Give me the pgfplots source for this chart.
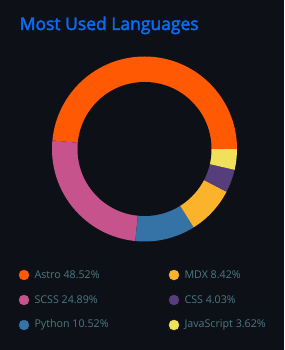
\documentclass[border=0pt]{standalone}
\usepackage{pgfplots}
\usepackage{pgfplotstable}
\pgfplotsset{compat=1.18}
\usepackage{fontspec}
\setmainfont{Open Sans}
\newfontfamily\titlefont[FakeBold=2.4]{Open Sans}
\definecolor{bg}{HTML}{0D1117}
\definecolor{titlec}{HTML}{0A6CF5}
\definecolor{textc}{HTML}{4A7A85}
\definecolor{cAstro}{HTML}{FF5A03}
\definecolor{cSCSS}{HTML}{C6538C}
\definecolor{cPython}{HTML}{3572A5}
\definecolor{cMDX}{HTML}{FCB32C}
\definecolor{cCSS}{HTML}{563D7C}
\definecolor{cJS}{HTML}{F1E05A}

\pgfplotstableread{
name value color lx ly
Astro 48.52 cAstro 24 275
SCSS 24.89 cSCSS 24 300
Python 10.52 cPython 24 325
MDX 8.42 cMDX 174 275
CSS 4.03 cCSS 174 300
JavaScript 3.62 cJS 174 325
}\langtable

\begin{document}
\begin{tikzpicture}
\begin{axis}[
  width=284pt, height=350pt, scale only axis,
  xmin=0, xmax=284, ymin=0, ymax=350, y dir=reverse,
  hide axis, clip=false,
]
\fill[bg] (axis cs:0,0) rectangle (axis cs:284,350);
\node[anchor=base west, inner sep=0pt, text=titlec, font=\titlefont\fontsize{17.5}{20}\selectfont] at (axis cs:19.5,30) {Most Used Languages};
\gdef\cum{0}
\foreach \i in {0,...,5} {
  \pgfplotstablegetelem{\i}{value}\of\langtable \let\v\pgfplotsretval
  \pgfplotstablegetelem{\i}{color}\of\langtable \let\c\pgfplotsretval
  \pgfmathsetmacro\a{\cum*3.6}
  \pgfmathsetmacro\newcum{\cum+\v}
  \pgfmathsetmacro\b{\newcum*3.6}
  \edef\temp{\noexpand\fill[\c] (axis cs:144.5,149) -- ++(\a:92.5pt) arc[start angle=\a, end angle=\b, radius=92.5pt] -- cycle;}
  \temp
  \xdef\cum{\newcum}
}
\fill[bg] (axis cs:144.5,149) circle[radius=67pt];
\foreach \i in {0,...,5} {
  \pgfplotstablegetelem{\i}{value}\of\langtable \let\v\pgfplotsretval
  \pgfplotstablegetelem{\i}{color}\of\langtable \let\c\pgfplotsretval
  \pgfplotstablegetelem{\i}{name}\of\langtable \let\n\pgfplotsretval
  \pgfplotstablegetelem{\i}{lx}\of\langtable \let\x\pgfplotsretval
  \pgfplotstablegetelem{\i}{ly}\of\langtable \let\y\pgfplotsretval
  \pgfmathsetmacro\tx{\x+10.3}
  \edef\temp{\noexpand\addplot[only marks, mark=*, mark size=5pt, color=\c] coordinates {(\x,\y)};
  \noexpand\node[anchor=west, inner sep=0pt, text=textc, font=\noexpand\fontsize{10.7}{13}\noexpand\selectfont] at (axis cs:\tx,\y) {\n\space\v\noexpand\%};}
  \temp
}
\end{axis}
\end{tikzpicture}
\end{document}
